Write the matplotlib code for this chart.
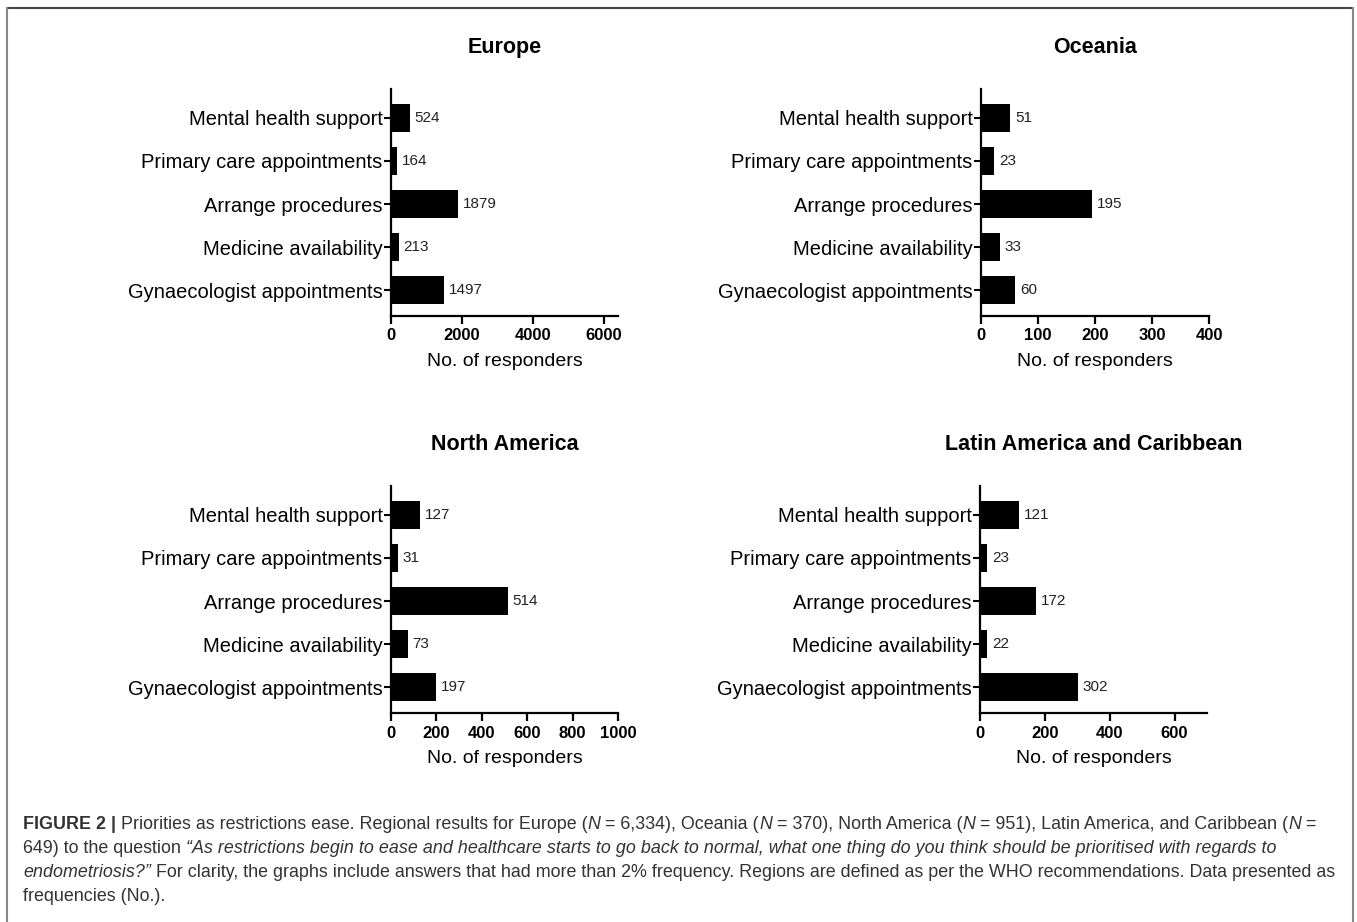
import matplotlib
matplotlib.use("Agg")
import matplotlib.pyplot as plt
from matplotlib.lines import Line2D

plt.rcParams['font.family'] = ['Liberation Sans', 'DejaVu Sans']

W, H = 1357, 922

categories = ["Mental health support", "Primary care appointments", "Arrange procedures",
              "Medicine availability", "Gynaecologist appointments"]
europe = [524, 164, 1879, 213, 1497]
oceania = [51, 23, 195, 33, 60]
north_america = [127, 31, 514, 73, 197]
latin_america = [121, 23, 172, 22, 302]

europe_ticks = [0, 2000, 4000, 6000]
oceania_ticks = [0, 100, 200, 300, 400]
north_america_ticks = [0, 200, 400, 600, 800, 1000]
latin_america_ticks = [0, 200, 400, 600]

fig = plt.figure(figsize=(W / 100, H / 100), dpi=100)


def px_axes(left, top, right, bottom):
    return fig.add_axes([left / W, 1 - bottom / H, (right - left) / W, (bottom - top) / H])


def draw_panel(ax, title, values, ticks, xmax):
    pos = list(range(len(categories)))
    ax.barh(pos, values, height=0.65, color='black')
    for p, v in zip(pos, values):
        ax.annotate(str(v), (v, p), xytext=(3.5, 0), textcoords='offset points',
                    va='center', ha='left', fontsize=11, color='#222222')
    ax.set_yticks(pos)
    ax.set_yticklabels(categories, fontsize=14.5)
    ax.set_ylim(4.6, -0.67)
    ax.set_xlim(0, xmax)
    ax.set_xticks(ticks)
    ax.set_xticklabels([str(t) for t in ticks], fontsize=12, fontweight='bold')
    ax.set_xlabel('No. of responders', fontsize=14, labelpad=7)
    ax.set_title(title, fontsize=15.5, fontweight='bold', pad=26)
    for s in ['top', 'right']:
        ax.spines[s].set_visible(False)
    for s in ['left', 'bottom']:
        ax.spines[s].set_linewidth(1.6)
    ax.tick_params(axis='y', length=5, width=1.5, pad=1)
    ax.tick_params(axis='x', length=6, width=1.6, pad=3)


ax1 = px_axes(391, 89, 618, 316)
draw_panel(ax1, 'Europe', europe, europe_ticks, 6400)
ax2 = px_axes(981, 89, 1209, 316)
draw_panel(ax2, 'Oceania', oceania, oceania_ticks, 400)
ax3 = px_axes(391, 486, 618, 713)
draw_panel(ax3, 'North America', north_america, north_america_ticks, 1000)
ax4 = px_axes(980, 486, 1207, 713)
draw_panel(ax4, 'Latin America and Caribbean', latin_america, latin_america_ticks, 700)

# border box (open at the bottom)
fig.add_artist(Line2D([7 / W, 1353 / W], [1 - 8 / H, 1 - 8 / H], transform=fig.transFigure,
                      color='#444444', lw=1.5))
fig.add_artist(Line2D([7 / W, 7 / W], [1 - 8 / H, 0], transform=fig.transFigure,
                      color='#888888', lw=1.5))
fig.add_artist(Line2D([1353 / W, 1353 / W], [1 - 8 / H, 0], transform=fig.transFigure,
                      color='#888888', lw=1.5))

# caption with mixed styles
cap_size = 12.9
cap_color = '#333333'
caption_lines = [
    [("FIGURE 2 | ", 'bold', 'normal'),
     ("Priorities as restrictions ease. Regional results for Europe (", 'normal', 'normal'),
     ("N", 'normal', 'italic'), (" = 6,334), Oceania (", 'normal', 'normal'),
     ("N", 'normal', 'italic'), (" = 370), North America (", 'normal', 'normal'),
     ("N", 'normal', 'italic'), (" = 951), Latin America, and Caribbean (", 'normal', 'normal'),
     ("N", 'normal', 'italic'), (" =", 'normal', 'normal')],
    [("649) to the question ", 'normal', 'normal'),
     ("\u201cAs restrictions begin to ease and healthcare starts to go back to normal, "
      "what one thing do you think should be prioritised with regards to", 'normal', 'italic')],
    [("endometriosis?\u201d", 'normal', 'italic'),
     (" For clarity, the graphs include answers that had more than 2% frequency. "
      "Regions are defined as per the WHO recommendations. Data presented as", 'normal', 'normal')],
    [("frequencies (No.).", 'normal', 'normal')],
]

renderer = fig.canvas.get_renderer()
y = 824
for line in caption_lines:
    x = 23
    for txt, weight, style in line:
        t = fig.text(x / W, 1 - y / H, txt, fontsize=cap_size, fontweight=weight,
                     fontstyle=style, color=cap_color, va='center', ha='left')
        x += t.get_window_extent(renderer).width
    y += 24

fig.savefig('out.png', dpi=100)
